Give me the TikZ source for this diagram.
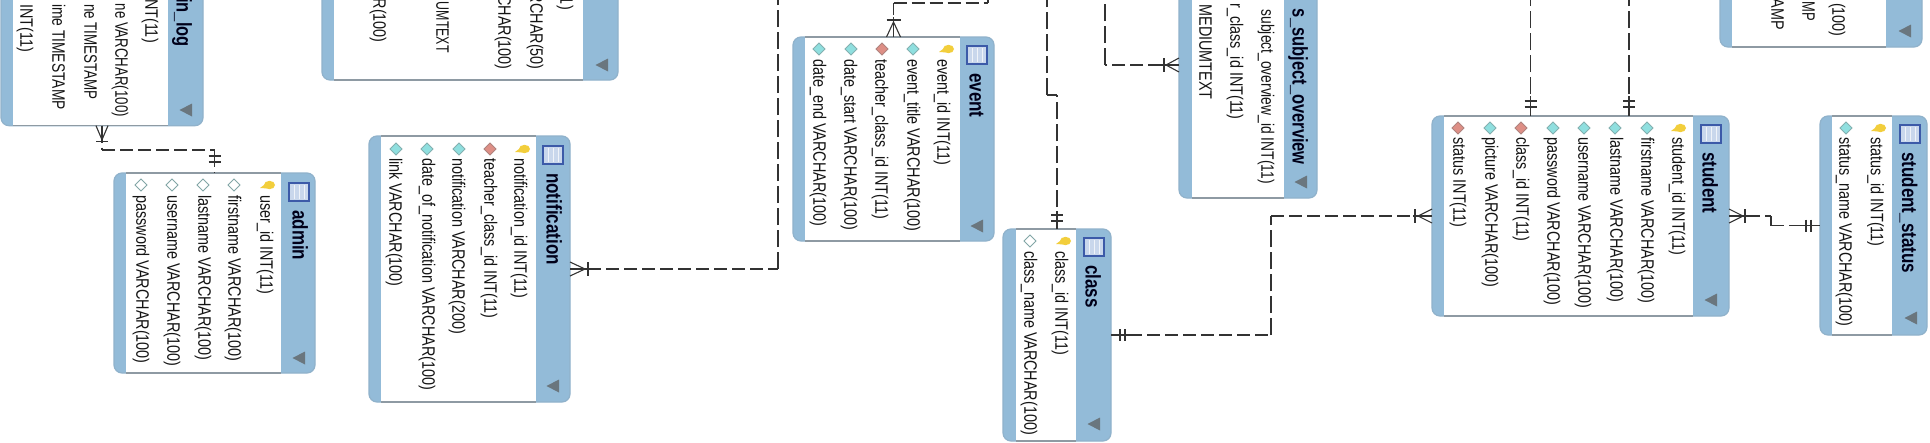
\documentclass[tikz,border=0pt]{standalone}
\usepackage{fontspec}
\setmainfont{Liberation Sans}
\usetikzlibrary{calc}
\definecolor{bandblue}{HTML}{93BBD8}
\definecolor{edgegray}{HTML}{8E9AA3}
\definecolor{lineink}{HTML}{333333}
\definecolor{keygold}{HTML}{F2CE3C}
\definecolor{colteal}{HTML}{8FDFDF}
\definecolor{colred}{HTML}{DE8F86}
\definecolor{iconfill}{HTML}{C9D7EC}
\definecolor{iconedge}{HTML}{3C5AA8}
\definecolor{tricolor}{HTML}{6A767E}
\tikzset{
  tablebox/.style={draw=bandblue!85!gray,line width=1.2pt,fill=bandblue,rounded corners=8pt,inner sep=0pt,outer sep=0pt},
  fieldtext/.style={rotate=-90,inner sep=0pt,font=\fontsize{14.4}{16}\selectfont,text=black!92},
  titletext/.style={rotate=-90,inner sep=0pt,font=\fontsize{17}{19}\selectfont\bfseries,text=black!90!blue},
  relh/.style={draw=lineink,line width=1.2pt,dash pattern=on 13pt off 5pt},
  relv/.style={draw=lineink,line width=1.2pt,dash pattern=on 17pt off 5pt},
  tick/.style={draw=lineink,line width=1.1pt},
  diam/.style={line width=.9pt},
  tri/.style={fill=tricolor,draw=none},
}
% table: name, x0,y0,x1,y1, body left, body right
\newcommand{\ertable}[7]{%
  \node[tablebox,minimum width=#4pt-#2pt,minimum height=#5pt-#3pt] (#1) at ({(#2+#4)/2},{(#3+#5)/2}) {};
  \fill[white] (#6,#3+.6) rectangle (#7,#5-.6);
  \draw[edgegray,line width=1.3pt] (#6,#3) -- (#7,#3) (#6,#5) -- (#7,#5);
}
\newcommand{\ertall}[1]{\scalebox{1}[1.25]{#1}}
\newcommand{\erfield}[4]{\node[fieldtext,anchor=west] (#1) at (#2,#3) {\ertall{\vphantom{(}#4}};}
\newcommand{\erend}[5][1]{\node[fieldtext,anchor=east] (#2) at (#3,#4) {\scalebox{#1}[1.25]{\vphantom{(}#5}};}
\newcommand{\ertitle}[4]{\node[titletext,anchor=west] (#1) at (#2,#3) {\ertall{\vphantom{(}#4}};}
\newcommand{\ertitleend}[4]{\node[titletext,anchor=east] (#1) at (#2,#3) {\scalebox{.97}[1.25]{\vphantom{(}#4}};}
\newcommand{\erkey}[2]{%
  \fill[keygold] (#1-7,#2+3) -- (#1-1,#2-1.5) -- (#1+1,#2+3.5) -- cycle;
  \fill[keygold] (#1+2.5,#2) ellipse (5.5 and 4.2);
}
\newcommand{\erdiam}[3]{%
  \filldraw[diam,fill=#3,draw=#3!70!black!80] (#1,#2-6) -- (#1+6,#2) -- (#1,#2+6) -- (#1-6,#2) -- cycle;
}
\newcommand{\erwhite}[2]{%
  \filldraw[diam,fill=white,draw=gray!60!teal!70] (#1,#2-6) -- (#1+6,#2) -- (#1,#2+6) -- (#1-6,#2) -- cycle;
}
\newcommand{\ericon}[2]{%
  \filldraw[fill=iconfill,draw=iconedge,line width=1.2pt] (#1-10,#2-9) rectangle (#1+10,#2+9);
  \foreach \k in {-5,0,5}{\draw[white!70!iconfill,line width=.6pt] (#1+\k,#2-7) -- (#1+\k,#2+7);}
}
\newcommand{\ertri}[2]{\fill[tri] (#1-6.5,#2) -- (#1+6,#2-6.5) -- (#1+6,#2+6.5) -- cycle;}
\begin{document}
\begin{tikzpicture}[x=1pt,y=-1pt]
\useasboundingbox (0,0) rectangle (1930,442);
\clip (0,0) rectangle (1930,442);
\fill[white] (0,0) rectangle (1930,442);

% ---------- login_log
\ertable{login}{1}{-200}{203}{125.7}{13}{168}
\ertitleend{tlogin}{182}{47}{in\_log}
\erend{l1}{150}{43}{NT(11)}
\erend[.92]{l2}{120}{117}{ne VARCHAR(100)}
\erend[.93]{l3}{89}{100}{ne TIMESTAMP}
\erend[.96]{l4}{57}{110}{ime TIMESTAMP}
\erend{l5}{25}{52}{INT(11)}
\ertri{186}{110}

% ---------- upper middle table
\ertable{upper}{322}{-200}{618}{80}{334}{583}
\erend{u1}{565}{10}{1)}
\erend{u2}{535}{70}{RCHAR(50)}
\erend{u3}{503}{70}{CHAR(100)}
\erend[.86]{u4}{441}{53}{UMTEXT}
\erend{u5}{378}{43}{R(100)}
\ertri{602}{65}

% ---------- admin
\ertable{admin}{114}{173}{315}{373}{126}{281}
\ericon{299}{192}
\ertitle{tadmin}{298}{210}{admin}
\erkey{267}{185}
\erfield{a1}{265}{195}{user\_id INT(11)}
\erwhite{234}{185}\erfield{a2}{233}{195}{firstname VARCHAR(100)}
\erwhite{203}{185}\erfield{a3}{203}{195}{lastname VARCHAR(100)}
\erwhite{172}{185}\erfield{a4}{172}{195}{username VARCHAR(100)}
\erwhite{141}{185}\erfield{a5}{141}{195}{password VARCHAR(100)}
\ertri{299}{358}

% ---------- notification
\ertable{notif}{369}{136}{570}{402}{381}{536}
\ericon{553}{155}
\ertitle{tnotif}{552}{173}{notification}
\erkey{522}{149}
\erfield{n1}{519}{158}{notification\_id INT(11)}
\erdiam{490}{149}{colred}\erfield{n2}{489}{158}{teacher\_class\_id INT(11)}
\erdiam{459}{149}{colteal}\erfield{n3}{457}{158}{notification VARCHAR(200)}
\erdiam{427}{149}{colteal}\erfield{n4}{427}{158}{date\_of\_notification VARCHAR(100)}
\erdiam{396}{149}{colteal}\erfield{n5}{394}{158}{link VARCHAR(100)}
\ertri{553}{386}

% ---------- event
\ertable{event}{793}{37}{994}{241}{805}{960}
\ericon{977}{55}
\ertitle{tevent}{975}{73}{event}
\erkey{946}{49}
\erfield{e1}{942}{59}{event\_id INT(11)}
\erdiam{913}{49}{colteal}\erfield{e2}{912}{59}{event\_title VARCHAR(100)}
\erdiam{882}{49}{colred}\erfield{e3}{880}{59}{teacher\_class\_id INT(11)}
\erdiam{851}{49}{colteal}\erfield{e4}{849}{59}{date\_start VARCHAR(100)}
\erdiam{819}{49}{colteal}\erfield{e5}{818}{59}{date\_end VARCHAR(100)}
\ertri{977}{226}

% ---------- class
\ertable{class}{1003}{229}{1111}{441}{1016}{1076}
\ericon{1094}{247}
\ertitle{tclass}{1091}{265}{class}
\erkey{1063}{241}
\erfield{c1}{1060}{251}{class\_id INT(11)}
\erwhite{1030}{241}\erfield{c2}{1029}{251}{class\_name VARCHAR(100)}
\ertri{1094}{424}

% ---------- subject overview
\ertable{subj}{1179}{-68}{1317}{198}{1192}{1284}
\ertitleend{tsubj}{1298}{165}{s\_subject\_overview}
\erend[.96]{s1}{1266}{184}{subject\_overview\_id INT(11)}
\erend{s2}{1235}{120}{r\_class\_id INT(11)}
\erend{s3}{1204}{100}{t MEDIUMTEXT}
\ertri{1301}{182}

% ---------- student
\ertable{student}{1432}{116}{1729}{316}{1444}{1693}
\ericon{1711}{134}
\ertitle{tstudent}{1708}{152}{student}
\erkey{1678}{128}
\erfield{st1}{1677}{137}{student\_id INT(11)}
\erdiam{1647}{128}{colteal}\erfield{st2}{1646}{137}{firstname VARCHAR(100)}
\erdiam{1615}{128}{colteal}\erfield{st3}{1615}{137}{lastname VARCHAR(100)}
\erdiam{1584}{128}{colteal}\erfield{st4}{1583}{137}{username VARCHAR(100)}
\erdiam{1553}{128}{colteal}\erfield{st5}{1552}{137}{password VARCHAR(100)}
\erdiam{1521}{128}{colred}\erfield{st6}{1521}{137}{class\_id INT(11)}
\erdiam{1490}{128}{colteal}\erfield{st7}{1490}{137}{picture VARCHAR(100)}
\erdiam{1458}{128}{colred}\erfield{st8}{1458}{137}{status INT(11)}
\ertri{1711}{300}

% ---------- student_status
\ertable{status}{1820}{116}{1927}{335}{1832}{1892}
\ericon{1910}{134}
\ertitle{tstatus}{1907.5}{152}{student\_status}
\erkey{1878}{128}
\erfield{ss1}{1875.5}{137}{status\_id INT(11)}
\erdiam{1846}{128}{colteal}\erfield{ss2}{1844}{137}{status\_name VARCHAR(100)}
\ertri{1911}{318}

% ---------- top right table
\ertable{topr}{1720}{-200}{1922}{47}{1732}{1886}
\erend{r1}{1837}{37}{(100)}
\erend[.9]{r2}{1807}{21}{MP}
\erend{r3}{1776}{30}{AMP}
\ertri{1905}{31}

% ---------- connectors
% login -- admin
\coordinate (la1) at (login.south |- 0,150);
\coordinate (la2) at (admin.north |- 0,150);
\draw[relv] (login.south) -- (la1);
\draw[relh] (la1) -- (la2);
\draw[relv] (la2) -- (admin.north);
\draw[tick] ($(login.south)+(-6,0)$) -- ($(login.south)+(0,14)$) -- ($(login.south)+(6,0)$);
\draw[tick] ($(login.south)+(-6,15.5)$) -- ($(login.south)+(6,15.5)$);
\draw[tick] ($(login.south)+(0,0)$) -- ($(login.south)+(0,17)$);
\draw[tick] ($(admin.north)+(-6,-17)$) -- ($(admin.north)+(6,-17)$);
\draw[tick] ($(admin.north)+(-6,-11)$) -- ($(admin.north)+(6,-11)$);
\draw[tick] ($(admin.north)+(0,-22)$) -- ($(admin.north)+(0,-8)$);

% notification -- top
\coordinate (nt1) at (778,0 |- notif.east);
\coordinate (nt2) at (778,-3);
\draw[relh] (notif.east) -- (nt1);
\draw[relv] (nt1) -- (nt2);
\draw[tick] ($(notif.east)+(0,-7)$) -- ($(notif.east)+(15,0)$) -- ($(notif.east)+(0,7)$);
\draw[tick] ($(notif.east)+(18,-7)$) -- ($(notif.east)+(18,7)$);
\draw[tick] (notif.east) -- ($(notif.east)+(20,0)$);

% event -- top
\coordinate (et1) at (event.north |- 0,3);
\coordinate (et2) at (988,3);
\coordinate (et3) at (988,-3);
\draw[relv] (event.north) -- (et1);
\draw[relh] (et1) -- (et2);
\draw[relv] (et2) -- (et3);
\draw[tick] ($(event.north)+(-7,0)$) -- ($(event.north)+(0,-15)$) -- ($(event.north)+(7,0)$);
\draw[tick] ($(event.north)+(-7,-17)$) -- ($(event.north)+(7,-17)$);
\draw[tick] (event.north) -- ($(event.north)+(0,-20)$);

% class top
\coordinate (ct1) at (class.north |- 0,95);
\coordinate (ct2) at (1047,95);
\coordinate (ct3) at (1047,-3);
\draw[relv] (class.north) -- (ct1);
\draw[relh] (ct1) -- (ct2);
\draw[relv] (ct2) -- (ct3);
\draw[tick] ($(class.north)+(-6,-14)$) -- ($(class.north)+(6,-14)$);
\draw[tick] ($(class.north)+(-6,-8)$) -- ($(class.north)+(6,-8)$);
\draw[tick] (class.north) -- ($(class.north)+(0,-18)$);

% subject overview
\coordinate (so1) at (1105,0 |- subj.west);
\coordinate (so2) at (1105,-3);
\draw[relh] (subj.west) -- (so1);
\draw[relv] (so1) -- (so2);
\draw[tick] ($(subj.west)+(0,-7)$) -- ($(subj.west)+(-13,0)$) -- ($(subj.west)+(0,7)$);
\draw[tick] ($(subj.west)+(-15,-7)$) -- ($(subj.west)+(-15,7)$);
\draw[tick] (subj.west) -- ($(subj.west)+(-18,0)$);

% class -- student
\coordinate (cs1) at (1271,0 |- class.east);
\coordinate (cs2) at (1271,0 |- student.west);
\draw[relh] (class.east) -- (cs1);
\draw[relv] (cs1) -- (cs2);
\draw[relh] (cs2) -- (student.west);
\draw[tick] ($(class.east)+(9,-6)$) -- ($(class.east)+(9,6)$);
\draw[tick] ($(class.east)+(14,-6)$) -- ($(class.east)+(14,6)$);
\draw[tick] (class.east) -- ($(class.east)+(19,0)$);
\draw[tick] ($(student.west)+(0,-7)$) -- ($(student.west)+(-14,0)$) -- ($(student.west)+(0,7)$);
\draw[tick] ($(student.west)+(-17,-7)$) -- ($(student.west)+(-17,7)$);
\draw[tick] (student.west) -- ($(student.west)+(-19,0)$);

% student top lines
\coordinate (st1a) at (1530.5,116);
\coordinate (st1b) at (1530.5,-3);
\coordinate (st2a) at (1629,116);
\coordinate (st2b) at (1629,-3);
\draw[relv] (st1a) -- (st1b);
\draw[relv] (st2a) -- (st2b);
\foreach \c in {st1a,st2a}{
  \draw[tick] ($(\c)+(-6,-15)$) -- ($(\c)+(6,-15)$);
  \draw[tick] ($(\c)+(-6,-9)$) -- ($(\c)+(6,-9)$);
  \draw[tick] (\c) -- ($(\c)+(0,-20)$);
}

% student -- status
\coordinate (ss1a) at (1771,0 |- student.east);
\coordinate (ss1b) at (1771,0 |- status.west);
\draw[relh] (student.east) -- (ss1a);
\draw[relv] (ss1a) -- (ss1b);
\draw[relh] (ss1b) -- (status.west);
\draw[tick] ($(student.east)+(0,-7)$) -- ($(student.east)+(14,0)$) -- ($(student.east)+(0,7)$);
\draw[tick] ($(student.east)+(16,-7)$) -- ($(student.east)+(16,7)$);
\draw[tick] (student.east) -- ($(student.east)+(19,0)$);
\draw[tick] ($(status.west)+(-14,-6)$) -- ($(status.west)+(-14,6)$);
\draw[tick] ($(status.west)+(-9,-6)$) -- ($(status.west)+(-9,6)$);
\draw[tick] ($(status.west)+(-22,0)$) -- ($(status.west)+(-5,0)$);
\end{tikzpicture}
\end{document}
